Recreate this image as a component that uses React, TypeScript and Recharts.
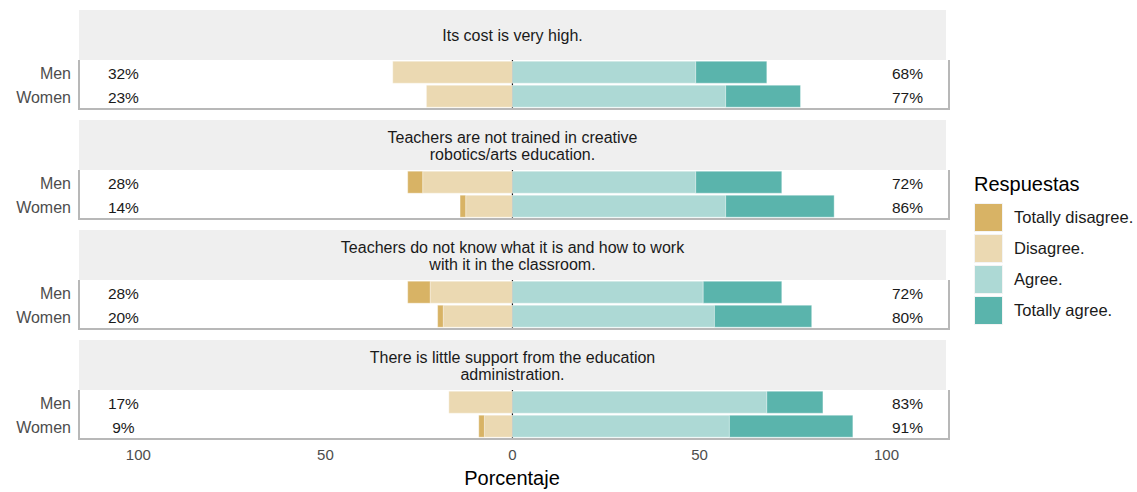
import React from "react";
import {
  BarChart,
  Bar,
  XAxis,
  YAxis,
  ReferenceLine,
  ReferenceDot,
} from "recharts";

const groups = ["Men", "Women"];

const questions = [
  ["Its cost is very high."],
  ["Teachers are not trained in creative", "robotics/arts education."],
  ["Teachers do not know what it is and how to work", "with it in the classroom."],
  ["There is little support from the education", "administration."],
];

// [Men, Women] per question
const totallyDisagree = [[0, 0], [4, 1.5], [6, 1.5], [0, 1.5]];
const disagree = [[32, 23], [24, 12.5], [22, 18.5], [17, 7.5]];
const agree = [[49, 57], [49, 57], [51, 54], [68, 58]];
const totallyAgree = [[19, 20], [23, 29], [21, 26], [15, 33]];

const lowLabels = [["32%", "23%"], ["28%", "14%"], ["28%", "20%"], ["17%", "9%"]];
const highLabels = [["68%", "77%"], ["72%", "86%"], ["72%", "80%"], ["83%", "91%"]];

const xTicks = [-100, -50, 0, 50, 100];

const colors = {
  td: "#D8B365",
  d: "#EBD9B2",
  a: "#ADD9D5",
  ta: "#5AB4AC",
};

const legendItems = [
  { name: "Totally disagree.", color: colors.td },
  { name: "Disagree.", color: colors.d },
  { name: "Agree.", color: colors.a },
  { name: "Totally agree.", color: colors.ta },
];

const FONT = "'Liberation Sans', Arial, sans-serif";

const PANEL_TOP = 10;
const STEP = 110;
const STRIP_H = 50;
const PLOT_H = 48;
const PLOT_L = 80;
const PLOT_R = 946;

function Panel({ index }: { index: number }) {
  const last = index === questions.length - 1;
  const top = PANEL_TOP + index * STEP;
  const rows = groups.map((g, i) => ({
    group: g,
    d: -disagree[index][i],
    td: -totallyDisagree[index][i],
    a: agree[index][i],
    ta: totallyAgree[index][i],
  }));
  const axisH = last ? 32 : 0;
  const pctStyle = { fill: "#1A1A1A", fontSize: 15.5, fontFamily: FONT };

  return (
    <>
      <div
        style={{
          position: "absolute",
          left: PLOT_L - 1,
          top,
          width: PLOT_R - PLOT_L + 1,
          height: STRIP_H,
          background: "#EFEFEF",
          display: "flex",
          flexDirection: "column",
          justifyContent: "center",
          alignItems: "center",
          fontFamily: FONT,
          fontSize: 16,
          lineHeight: "17px",
          color: "#1A1A1A",
          paddingTop: 1,
          boxSizing: "border-box",
        }}
      >
        {questions[index].map((l) => (
          <div key={l}>{l}</div>
        ))}
      </div>
      <div
        style={{
          position: "absolute",
          left: PLOT_L - 2,
          top: top + STRIP_H,
          width: PLOT_R - PLOT_L + 2,
          height: PLOT_H,
          borderLeft: "2px solid #B8B8B8",
          borderRight: "2px solid #B8B8B8",
          borderBottom: "2px solid #B8B8B8",
        }}
      />
      <div style={{ position: "absolute", left: 0, top: top + STRIP_H }}>
        <BarChart
          width={PLOT_R}
          height={PLOT_H + axisH}
          data={rows}
          layout="vertical"
          stackOffset="sign"
          barCategoryGap="5%"
          margin={{ top: 0, right: 0, bottom: 0, left: 0 }}
        >
          <XAxis
            type="number"
            domain={[-115.6, 115.9]}
            ticks={xTicks}
            allowDataOverflow
            hide={!last}
            height={axisH}
            axisLine={false}
            tickLine={false}
            tickMargin={5}
            tickFormatter={(v: number) => String(Math.abs(v))}
            tick={{ fill: "#4D4D4D", fontSize: 15, fontFamily: FONT }}
          />
          <YAxis
            type="category"
            dataKey="group"
            width={PLOT_L}
            axisLine={false}
            tickLine={false}
            tickMargin={3}
            tick={{ fill: "#4D4D4D", fontSize: 16, fontFamily: FONT, dy: 1 }}
          />
          <ReferenceLine x={0} stroke="#000" strokeWidth={1.2} zIndex={-1} />
          <Bar dataKey="d" stackId="s" fill={colors.d} stroke="#fff" strokeOpacity={0.6} strokeWidth={0.6} isAnimationActive={false} />
          <Bar dataKey="td" stackId="s" fill={colors.td} stroke="#fff" strokeOpacity={0.6} strokeWidth={0.6} isAnimationActive={false} />
          <Bar dataKey="a" stackId="s" fill={colors.a} stroke="#fff" strokeOpacity={0.6} strokeWidth={0.6} isAnimationActive={false} />
          <Bar dataKey="ta" stackId="s" fill={colors.ta} stroke="#fff" strokeOpacity={0.6} strokeWidth={0.6} isAnimationActive={false} />
          {groups.map((g, i) => (
            <ReferenceDot
              key={"l" + g}
              x={-104}
              y={g}
              r={0}
              fill="none"
              stroke="none"
              label={{ value: lowLabels[index][i], position: "center", dy: 1, ...pctStyle }}
            />
          ))}
          {groups.map((g, i) => (
            <ReferenceDot
              key={"h" + g}
              x={105.6}
              y={g}
              r={0}
              fill="none"
              stroke="none"
              label={{ value: highLabels[index][i], position: "center", dy: 1, ...pctStyle }}
            />
          ))}
        </BarChart>
      </div>
    </>
  );
}

export default function App() {
  return (
    <div
      style={{
        position: "fixed",
        left: 0,
        top: 0,
        width: 1137,
        height: 492,
        background: "#fff",
        fontFamily: FONT,
      }}
    >
      {questions.map((_, i) => (
        <Panel key={i} index={i} />
      ))}
      <div
        style={{
          position: "absolute",
          left: 0,
          width: 1024,
          top: 467,
          textAlign: "center",
          fontSize: 20,
          lineHeight: "23px",
          color: "#000",
        }}
      >
        Porcentaje
      </div>
      <div style={{ position: "absolute", left: 974, top: 173, fontSize: 20, lineHeight: "23px", color: "#000" }}>
        Respuestas
      </div>
      {legendItems.map((it, i) => (
        <div
          key={it.name}
          style={{
            position: "absolute",
            left: 974,
            top: 203 + i * 31,
            height: 29,
            display: "flex",
            alignItems: "center",
          }}
        >
          <div style={{ width: 29, height: 29, background: it.color, boxSizing: "border-box", border: "1px solid #f4f4f4" }} />
          <div style={{ marginLeft: 11, fontSize: 16.5, color: "#1A1A1A" }}>{it.name}</div>
        </div>
      ))}
    </div>
  );
}
